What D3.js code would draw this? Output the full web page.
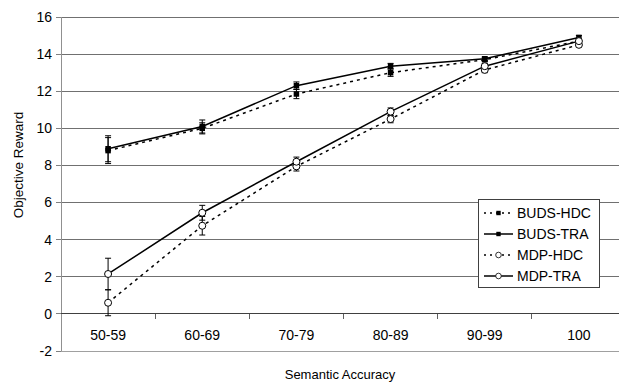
<!DOCTYPE html>
<html><head><meta charset="utf-8">
<script src="https://cdn.jsdelivr.net/npm/d3@7"></script>
<style>body{margin:0;background:#fff}svg{display:block}text{font-family:"Liberation Sans",Arial,sans-serif}</style>
</head><body><svg id="c" width="619" height="383"></svg>
<script>
const categories = ["50-59","60-69","70-79","80-89","90-99","100"];
const yTicks = [-2,0,2,4,6,8,10,12,14,16];
const seriesNames = ["BUDS-HDC","BUDS-TRA","MDP-HDC","MDP-TRA"];
const budsHdc = [8.8, 10.0, 11.85, 13.0, 13.7, 14.7];
const budsHdcErr = [0.7, 0.3, 0.25, 0.2, 0.1, 0.1];
const budsTra = [8.9, 10.1, 12.3, 13.35, 13.75, 14.9];
const budsTraErr = [0.7, 0.35, 0.2, 0.15, 0.1, 0.1];
const mdpHdc = [0.6, 4.75, 7.95, 10.5, 13.15, 14.5];
const mdpHdcErr = [0.7, 0.5, 0.25, 0.2, 0.15, 0.1];
const mdpTra = [2.15, 5.45, 8.2, 10.9, 13.35, 14.7];
const mdpTraErr = [0.85, 0.4, 0.25, 0.2, 0.15, 0.1];

const series = [
  {name: seriesNames[0], v: budsHdc, e: budsHdcErr, dash: "3,4", marker: "square"},
  {name: seriesNames[1], v: budsTra, e: budsTraErr, dash: null, marker: "square"},
  {name: seriesNames[2], v: mdpHdc, e: mdpHdcErr, dash: "3,4", marker: "circle"},
  {name: seriesNames[3], v: mdpTra, e: mdpTraErr, dash: null, marker: "circle"}
];

const svg = d3.select("#c");
const L = 61, R = 626, T = 17, B = 351;
const x = d3.scaleBand().domain(categories).range([L, R]);
const y = d3.scaleLinear().domain([-2, 16]).range([B, T]);
const cx = c => x(c) + x.bandwidth()/2;

svg.append("g").selectAll("line").data(yTicks).join("line")
  .attr("x1", L).attr("x2", 619).attr("y1", d => y(d)).attr("y2", d => y(d))
  .attr("stroke", d => d === -2 ? "#a0a0a0" : "#707070").attr("stroke-width", 1)
  .attr("shape-rendering", "crispEdges");
svg.append("line").attr("x1", L).attr("x2", L).attr("y1", T).attr("y2", B)
  .attr("stroke", "#909090").attr("shape-rendering", "crispEdges");
svg.append("g").selectAll("line").data(yTicks).join("line")
  .attr("x1", L-5).attr("x2", L).attr("y1", d => y(d)).attr("y2", d => y(d))
  .attr("stroke", "#808080").attr("shape-rendering", "crispEdges");
svg.append("g").selectAll("text").data(yTicks).join("text")
  .attr("x", L-9).attr("y", d => y(d)).attr("dy", "0.35em").attr("text-anchor", "end")
  .attr("font-size", 14).attr("fill", "#000").text(d => d);
svg.append("line").attr("x1", L).attr("x2", 619).attr("y1", y(0)).attr("y2", y(0))
  .attr("stroke", "#404040").attr("shape-rendering", "crispEdges");
svg.append("g").selectAll("line").data(categories.slice(1)).join("line")
  .attr("x1", d => x(d)).attr("x2", d => x(d)).attr("y1", y(0)).attr("y2", y(0)+5)
  .attr("stroke", "#606060").attr("shape-rendering", "crispEdges");
svg.append("g").selectAll("text").data(categories).join("text")
  .attr("x", d => cx(d)).attr("y", 340).attr("text-anchor", "middle")
  .attr("font-size", 14).attr("fill", "#000").text(d => d);
svg.append("text").attr("x", 340).attr("y", 379).attr("text-anchor", "middle")
  .attr("font-size", 13).text("Semantic Accuracy");
svg.append("text").attr("transform", "translate(23,165) rotate(-90)").attr("text-anchor", "middle")
  .attr("font-size", 13.5).text("Objective Reward");

const line = d3.line().x((d,i) => cx(categories[i])).y(d => y(d));
series.forEach(s => {
  svg.append("path").datum(s.v).attr("d", line).attr("fill", "none")
    .attr("stroke", "#000").attr("stroke-width", 1.5)
    .attr("stroke-dasharray", s.dash);
});
series.forEach(s => {
  const g = svg.append("g").attr("stroke", "#000").attr("stroke-width", 1);
  s.v.forEach((v, i) => {
    const xc = cx(categories[i]);
    const e = s.e[i];
    g.append("line").attr("x1", xc).attr("x2", xc).attr("y1", y(v-e)).attr("y2", y(v+e));
    [v-e, v+e].forEach(w => g.append("line").attr("x1", xc-3).attr("x2", xc+3).attr("y1", y(w)).attr("y2", y(w)));
  });
});
function marker(g, type, xc, yc) {
  if (type === "square") {
    g.append("rect").attr("x", xc-2.75).attr("y", yc-2.75).attr("width", 5.5).attr("height", 5.5).attr("fill", "#000");
  } else {
    g.append("circle").attr("cx", xc).attr("cy", yc).attr("r", 3.5).attr("fill", "#fff").attr("stroke", "#000").attr("stroke-width", 1);
  }
}
series.forEach(s => {
  const g = svg.append("g");
  s.v.forEach((v, i) => marker(g, s.marker, cx(categories[i]), y(v)));
});

const lg = svg.append("g");
lg.append("rect").attr("x", 478.5).attr("y", 199.5).attr("width", 121).attr("height", 88)
  .attr("fill", "#fff").attr("stroke", "#404040");
series.forEach((s, i) => {
  const yy = 213 + i*21;
  lg.append("line").attr("x1", 484).attr("x2", 513).attr("y1", yy).attr("y2", yy)
    .attr("stroke", "#000").attr("stroke-width", 1.5).attr("stroke-dasharray", s.dash ? "2,4" : null);
  const g = lg.append("g").attr("transform", `translate(${498.5},${yy}) scale(0.8) translate(${-498.5},${-yy})`);
  marker(g, s.marker, 498.5, yy);
  lg.append("text").attr("x", 517).attr("y", yy).attr("dy", "0.35em").attr("font-size", 14).text(s.name);
});
</script></body></html>
